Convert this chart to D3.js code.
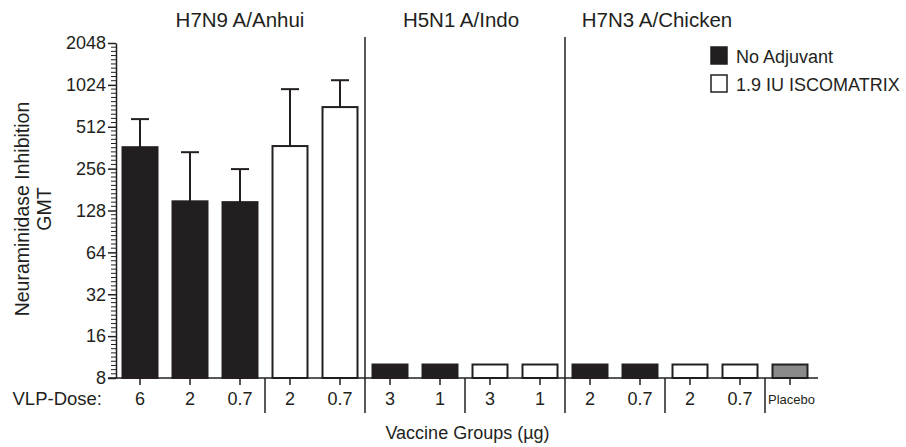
<!DOCTYPE html>
<html>
<head>
<meta charset="utf-8">
<script src="https://cdn.jsdelivr.net/npm/d3@7"></script>
<style>
  body { margin: 0; background: #fff; }
  svg text { font-family: Arial, "Liberation Sans", Helvetica, sans-serif; fill: #231f20; }
</style>
</head>
<body>
<svg class="nichart" width="906" height="447"></svg>
<script>
// values
const groupNames = ["H7N9 A/Anhui", "H5N1 A/Indo", "H7N3 A/Chicken"];
const groupOf = [0, 0, 0, 0, 0, 1, 1, 1, 1, 2, 2, 2, 2, 2];
const doses = ["6", "2", "0.7", "2", "0.7", "3", "1", "3", "1", "2", "0.7", "2", "0.7", "Placebo"];
const adjuvant = ["none", "none", "none", "iscom", "iscom", "none", "none", "iscom", "iscom",
                  "none", "none", "iscom", "iscom", "placebo"];
const gmt = [365, 149, 147, 372, 709, 10, 10, 10, 10, 10, 10, 10, 10, 10];
const errUpper = [581, 336, 254, 954, 1106, null, null, null, null, null, null, null, null, null];
const yTicks = [8, 16, 32, 64, 128, 256, 512, 1024, 2048];
const legendLabels = ["No Adjuvant", "1.9 IU ISCOMATRIX"];

const ink = '#231f20';
const fills = { none: ink, iscom: '#fff', placebo: '#8a8a8a' };

const svg = d3.select('.nichart');
const plotL = 116, plotR = 815, plotT = 43, plotB = 378;

const xScale = d3.scaleBand()
    .domain(d3.range(doses.length))
    .range([plotL - 1, plotR])
    .paddingInner(0.3)
    .paddingOuter(0.15);

const yScale = d3.scaleLog()
    .base(2)
    .domain([8, 2048])
    .range([plotB, plotT]);

const step = xScale.step();
const bw = xScale.bandwidth();
const cx = i => xScale(i) + bw / 2;
const gapAfter = i => xScale(i) + bw + (step - bw) / 2;

// minor ticks, 10 steps per doubling
const minor = [];
for (let k = 0; k < yTicks.length - 1; k++) {
    for (let j = 1; j < 10; j++) {
        minor.push(yTicks[k] * Math.pow(2, j / 10));
    }
}
svg.append('g')
    .selectAll('line')
    .data(minor)
    .enter()
    .append('line')
    .attr('x1', plotL - 5)
    .attr('x2', plotL)
    .attr('y1', d => yScale(d))
    .attr('y2', d => yScale(d))
    .attr('stroke', ink)
    .attr('stroke-width', 1);

const yAxis = svg.append('g')
    .attr('transform', `translate(${plotL}, 0)`)
    .call(d3.axisLeft(yScale)
        .tickValues(yTicks)
        .tickFormat(d3.format('d'))
        .tickSize(8)
        .tickPadding(2)
        .tickSizeOuter(0));
yAxis.select('.domain').attr('stroke', ink).attr('stroke-width', 1.5);
yAxis.selectAll('.tick line').attr('stroke', ink).attr('stroke-width', 1.5);
yAxis.selectAll('.tick text')
    .style('font-size', '18px')
    .attr('fill', ink);

// bars
svg.append('g')
    .selectAll('rect')
    .data(gmt)
    .enter()
    .append('rect')
    .attr('x', (d, i) => xScale(i))
    .attr('y', d => yScale(d))
    .attr('width', bw)
    .attr('height', d => plotB - yScale(d))
    .attr('fill', (d, i) => fills[adjuvant[i]])
    .attr('stroke', ink)
    .attr('stroke-width', 2);

// error bars (upper only)
const errs = errUpper.map((e, i) => ({ i: i, lo: gmt[i], hi: e })).filter(d => d.hi != null);
const eg = svg.append('g').attr('stroke', ink).attr('stroke-width', 2);
eg.selectAll('.stem')
    .data(errs)
    .enter()
    .append('line')
    .attr('x1', d => cx(d.i))
    .attr('x2', d => cx(d.i))
    .attr('y1', d => yScale(d.lo))
    .attr('y2', d => yScale(d.hi));
eg.selectAll('.cap')
    .data(errs)
    .enter()
    .append('line')
    .attr('x1', d => cx(d.i) - 9)
    .attr('x2', d => cx(d.i) + 9)
    .attr('y1', d => yScale(d.hi))
    .attr('y2', d => yScale(d.hi));

// x axis line and ticks
svg.append('line')
    .attr('x1', plotL - 8)
    .attr('x2', plotR + 3)
    .attr('y1', plotB)
    .attr('y2', plotB)
    .attr('stroke', ink)
    .attr('stroke-width', 1.5);

svg.append('g')
    .selectAll('line')
    .data(doses)
    .enter()
    .append('line')
    .attr('x1', (d, i) => cx(i))
    .attr('x2', (d, i) => cx(i))
    .attr('y1', plotB)
    .attr('y2', plotB + 7)
    .attr('stroke', ink)
    .attr('stroke-width', 1.5);

svg.append('g')
    .selectAll('text')
    .data(doses)
    .enter()
    .append('text')
    .attr('x', (d, i) => d === 'Placebo' ? gapAfter(i - 1) + 3 : cx(i))
    .attr('y', (d, i) => d === 'Placebo' ? 404 : 405)
    .attr('text-anchor', d => d === 'Placebo' ? 'start' : 'middle')
    .style('font-size', d => d === 'Placebo' ? '13px' : '18px')
    .text(d => d);

// dividers below axis, between dose pairs
const lowDiv = [2, 4, 6, 8, 10, 12];
svg.append('g')
    .selectAll('line')
    .data(lowDiv)
    .enter()
    .append('line')
    .attr('x1', d => gapAfter(d))
    .attr('x2', d => gapAfter(d))
    .attr('y1', plotB)
    .attr('y2', 413)
    .attr('stroke', ink)
    .attr('stroke-width', 1.5);

// dividers between virus groups
const groupDiv = [4, 8];
svg.append('g')
    .selectAll('line')
    .data(groupDiv)
    .enter()
    .append('line')
    .attr('x1', d => gapAfter(d))
    .attr('x2', d => gapAfter(d))
    .attr('y1', 37)
    .attr('y2', plotB)
    .attr('stroke', ink)
    .attr('stroke-width', 1.5);

// group titles
const groupCenters = groupNames.map((g, k) => {
    const idx = d3.range(doses.length).filter(i => groupOf[i] === k && adjuvant[i] !== 'placebo');
    return (cx(idx[0]) + cx(idx[idx.length - 1])) / 2;
});
svg.append('g')
    .selectAll('text')
    .data(groupNames)
    .enter()
    .append('text')
    .attr('x', (d, k) => groupCenters[k] - (k === 2 ? 8 : k === 1 ? 4 : 0))
    .attr('y', 27)
    .attr('text-anchor', 'middle')
    .style('font-size', '20.5px')
    .text(d => d);

// axis titles
svg.append('text')
    .attr('x', 102)
    .attr('y', 405)
    .attr('text-anchor', 'end')
    .style('font-size', '18.5px')
    .text('VLP-Dose:');

svg.append('text')
    .attr('x', (plotL + plotR) / 2 + 2)
    .attr('y', 439)
    .attr('text-anchor', 'middle')
    .style('font-size', '18px')
    .text('Vaccine Groups (µg)');

const yLab = svg.append('text')
    .attr('transform', `translate(29, 209) rotate(-90)`)
    .attr('text-anchor', 'middle')
    .style('font-size', '19.5px');
yLab.append('tspan').attr('x', 0).attr('dy', 0).text('Neuraminidase Inhibition');
yLab.append('tspan').attr('x', 0).attr('dy', 22).text('GMT');

// legend
const legend = svg.append('g').attr('transform', 'translate(711, 47)');
legend.selectAll('rect')
    .data(legendLabels)
    .enter()
    .append('rect')
    .attr('x', 0)
    .attr('y', (d, i) => i * 28)
    .attr('width', 16)
    .attr('height', 17)
    .attr('fill', (d, i) => i === 0 ? ink : '#fff')
    .attr('stroke', ink)
    .attr('stroke-width', 1.5);
legend.selectAll('text')
    .data(legendLabels)
    .enter()
    .append('text')
    .attr('x', 25)
    .attr('y', (d, i) => i * 28 + 16)
    .style('font-size', '18px')
    .text(d => d);
</script>
</body>
</html>
